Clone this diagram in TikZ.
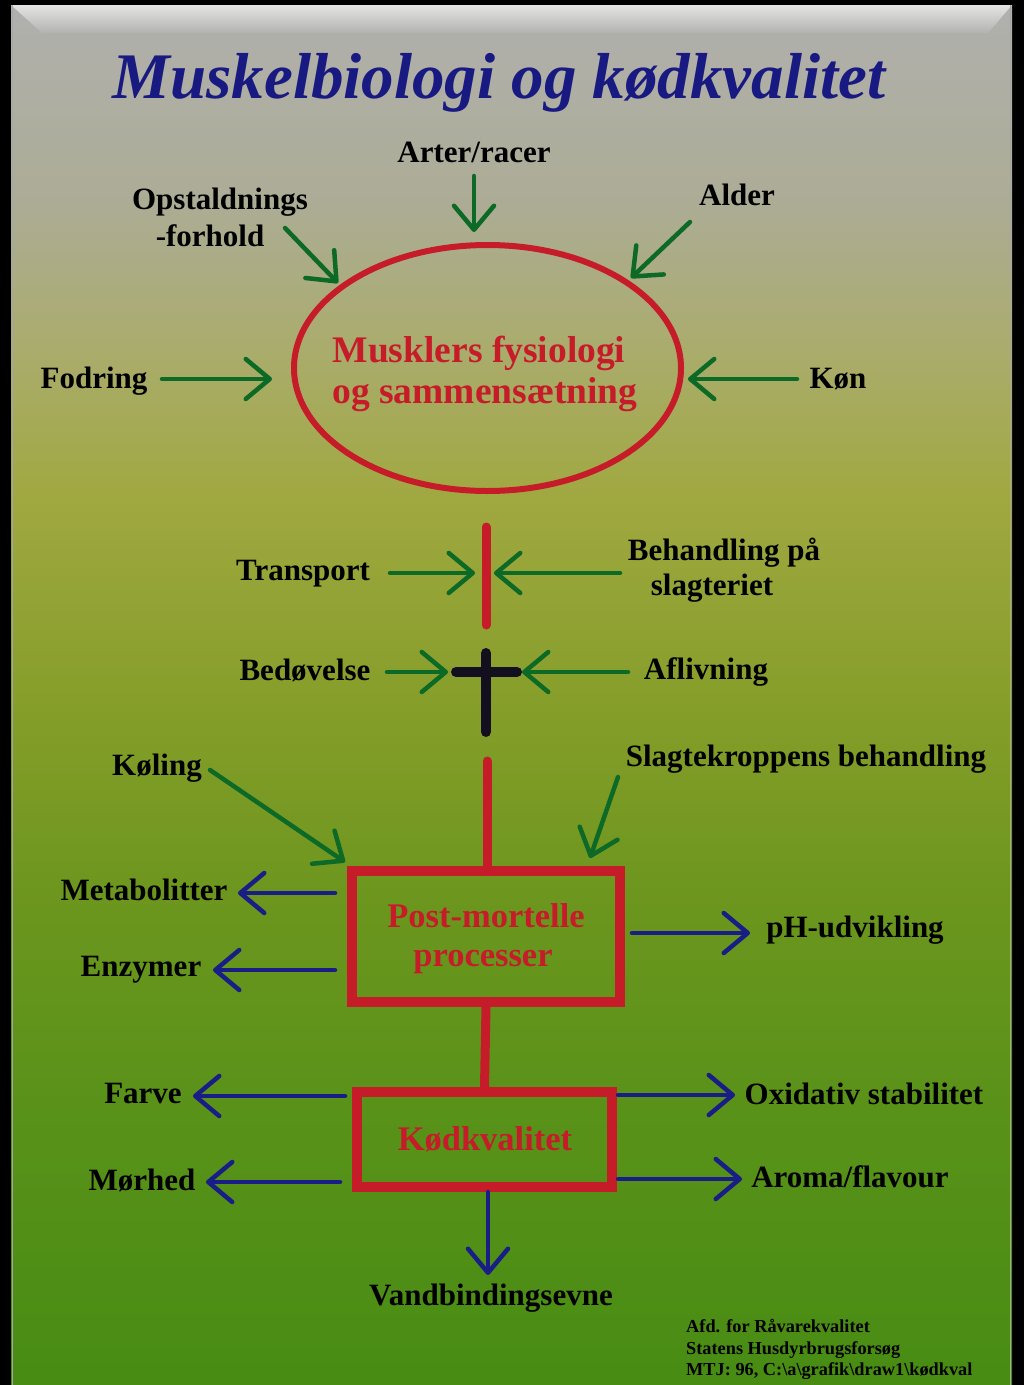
\documentclass[tikz,border=0pt]{standalone}
\usepackage{fontspec}
\setmainfont{Liberation Serif}
\usetikzlibrary{arrows.meta,shapes.geometric}
\definecolor{myred}{RGB}{198,28,42}
\definecolor{mygreen}{RGB}{12,105,38}
\definecolor{myblue}{RGB}{25,30,135}
\definecolor{titleblue}{RGB}{25,25,130}
\definecolor{crossblack}{RGB}{20,15,30}
\definecolor{g0}{RGB}{176,176,174}
\definecolor{g1}{RGB}{172,172,150}
\definecolor{g2}{RGB}{170,172,108}
\definecolor{g3}{RGB}{160,168,64}
\definecolor{g4}{RGB}{134,158,42}
\definecolor{g5}{RGB}{108,150,30}
\definecolor{g6}{RGB}{90,146,25}
\definecolor{g7}{RGB}{72,140,20}
\definecolor{bev0}{RGB}{228,228,226}
\definecolor{bev1}{RGB}{178,178,176}
\pgfdeclareverticalshading{postershade}{100bp}{color(0bp)=(g7); color(25bp)=(g7); color(35.3bp)=(g6); color(42.6bp)=(g5); color(49.8bp)=(g4); color(57.1bp)=(g3); color(62.5bp)=(g2); color(67.9bp)=(g1); color(75bp)=(g0); color(100bp)=(g0)}
\tikzset{
  lbl/.style={font=\fontsize{31}{35}\selectfont\bfseries, text=black, anchor=base, inner sep=0pt},
  redlbl/.style={font=\fontsize{37.5}{42}\selectfont\bfseries, text=myred, anchor=base, inner sep=0pt},
  boxlbl/.style={font=\fontsize{34.5}{38}\selectfont\bfseries, text=myred, anchor=base, inner sep=0pt},
  footlbl/.style={font=\fontsize{18.3}{21}\selectfont\bfseries, text=black, anchor=base west, inner sep=0pt},
  garrow/.style={draw=mygreen, line width=4.5pt, line cap=round, -{Straight Barb[length=24pt,width=40pt,round]}},
  barrow/.style={draw=myblue, line width=4.5pt, line cap=round, -{Straight Barb[length=24pt,width=40pt,round]}},
  redline/.style={draw=myred, line width=9pt, line cap=round},
  redjoin/.style={draw=myred, line width=9pt},
  crossline/.style={draw=crossblack, line width=10pt, line cap=round},
  redbox/.style={draw=myred, line width=10pt, inner sep=0pt},
}
\begin{document}
\begin{tikzpicture}[x=1pt,y=-1pt]
\useasboundingbox (0,0) rectangle (1024,1385);
% background
\fill[black] (0,0) rectangle (1024,1385);
\shade[shading=postershade] (11,5) rectangle (1012,1385);
\shade[top color=bev0, bottom color=bev1] (11,5) -- (1012,5) -- (988,33) -- (42,33) -- cycle;
\draw[gray!70, line width=1.5pt] (12.5,5) -- (12.5,1385);
\draw[gray!70, line width=1.5pt] (1010.5,5) -- (1010.5,1385);

% title
\node[font=\fontsize{65}{70}\selectfont\bfseries\itshape, text=titleblue, anchor=base, inner sep=0pt] (title) at (499,98) {Muskelbiologi og kødkvalitet};

% central ellipse
\node[ellipse, draw=myred, line width=6pt, minimum width=387pt, minimum height=246pt, inner sep=0pt] (musk) at (487.5,368) {};
\node[redlbl] (musk1) at (479,362) {Musklers fysiologi};
\node[redlbl] (musk2) at (485,403) {og sammensætning};

% boxes
\node[redbox, minimum width=268pt, minimum height=131pt] (pm) at (486,936.5) {};
\node[boxlbl] (pm1) at (486,927) {Post-mortelle};
\node[boxlbl] (pm2) at (483,966) {processer};
\node[redbox, minimum width=255pt, minimum height=95pt] (kq) at (484.5,1139.5) {};
\node[boxlbl] (kq1) at (485,1150) {Kødkvalitet};

% labels
\node[lbl] (arter) at (474,162) {Arter/racer};
\node[lbl] (opst1) at (220,209) {Opstaldnings};
\node[lbl] (opst2) at (210,246) {-forhold};
\node[lbl] (alder) at (737,205) {Alder};
\node[lbl] (fodring) at (94,388) {Fodring};
\node[lbl] (kon) at (838,388) {Køn};
\node[lbl] (transport) at (303,580) {Transport};
\node[lbl] (beh1) at (724,560) {Behandling på};
\node[lbl] (beh2) at (712,595) {slagteriet};
\node[lbl] (bedov) at (305,680) {Bedøvelse};
\node[lbl] (afliv) at (706,679) {Aflivning};
\node[lbl] (koling) at (157,775) {Køling};
\node[lbl] (slagt) at (806,766) {Slagtekroppens behandling};
\node[lbl] (metab) at (144,900) {Metabolitter};
\node[lbl] (enzym) at (141,976) {Enzymer};
\node[lbl] (ph) at (855,937) {pH-udvikling};
\node[lbl] (farve) at (143,1103) {Farve};
\node[lbl] (morhed) at (142,1190) {Mørhed};
\node[lbl] (oxid) at (864,1104) {Oxidativ stabilitet};
\node[lbl] (aroma) at (850,1187) {Aroma/flavour};
\node[lbl] (vand) at (491,1305) {Vandbindingsevne};

% footer
\node[footlbl] (foot1) at (686,1332) {Afd. for Råvarekvalitet};
\node[footlbl] (foot2) at (686,1354) {Statens Husdyrbrugsforsøg};
\node[footlbl] (foot3) at (686,1375) {MTJ: 96, C:\textbackslash a\textbackslash grafik\textbackslash draw1\textbackslash kødkval};

% coordinates
\coordinate (arterA) at (474,176);  \coordinate (arterB) at (474,232);
\coordinate (opstA) at (285,228);   \coordinate (opstB) at (338,283);
\coordinate (alderA) at (690,222);  \coordinate (alderB) at (631,278);
\coordinate (fodA) at (162,379);    \coordinate (fodB) at (272,379);
\coordinate (konA) at (797,379);    \coordinate (konB) at (688,379);
\coordinate (trA) at (390,573);     \coordinate (trB) at (475,573);
\coordinate (behA) at (620,573);    \coordinate (behB) at (494,573);
\coordinate (bedA) at (387,672);    \coordinate (bedB) at (448,672);
\coordinate (afA) at (628,672);     \coordinate (afB) at (522,672);
\coordinate (kolA) at (210,770);    \coordinate (kolB) at (345,862);
\coordinate (slA) at (618,777);     \coordinate (slB) at (590,858);
\coordinate (metA) at (335,893);    \coordinate (metB) at (238,893);
\coordinate (enzA) at (335,970);    \coordinate (enzB) at (213,970);
\coordinate (phA) at (632,933);     \coordinate (phB) at (750,933);
\coordinate (farA) at (345,1096);   \coordinate (farB) at (193,1096);
\coordinate (morA) at (340,1182);   \coordinate (morB) at (206,1182);
\coordinate (oxA) at (618,1095);    \coordinate (oxB) at (735,1095);
\coordinate (arA) at (618,1179);    \coordinate (arB) at (742,1179);
\coordinate (vaA) at (488,1192);    \coordinate (vaB) at (488,1275);
\coordinate (lifeA) at (486,527);   \coordinate (lifeB) at (486,625);
\coordinate (crossT) at (486,653);  \coordinate (crossB) at (486,732);
\coordinate (crossL) at (456,672);  \coordinate (crossR) at (517,672);
\coordinate (postA) at (487,761);

% red connecting lines
\draw[redline] (lifeA) -- (lifeB);
\draw[redline] (postA) -- (pm.north -| postA);
\draw[redjoin] (pm.south) -- (kq.north);
% cross
\draw[crossline] (crossT) -- (crossB);
\draw[crossline] (crossL) -- (crossR);

% green arrows
\draw[garrow] (arterA) -- (arterB);
\draw[garrow] (opstA) -- (opstB);
\draw[garrow] (alderA) -- (alderB);
\draw[garrow] (fodA) -- (fodB);
\draw[garrow] (konA) -- (konB);
\draw[garrow] (trA) -- (trB);
\draw[garrow] (behA) -- (behB);
\draw[garrow] (bedA) -- (bedB);
\draw[garrow] (afA) -- (afB);
\draw[garrow] (kolA) -- (kolB);
\draw[garrow] (slA) -- (slB);

% blue arrows
\draw[barrow] (metA) -- (metB);
\draw[barrow] (enzA) -- (enzB);
\draw[barrow] (phA) -- (phB);
\draw[barrow] (farA) -- (farB);
\draw[barrow] (morA) -- (morB);
\draw[barrow] (oxA) -- (oxB);
\draw[barrow] (arA) -- (arB);
\draw[barrow] (vaA) -- (vaB);
\end{tikzpicture}
\end{document}
